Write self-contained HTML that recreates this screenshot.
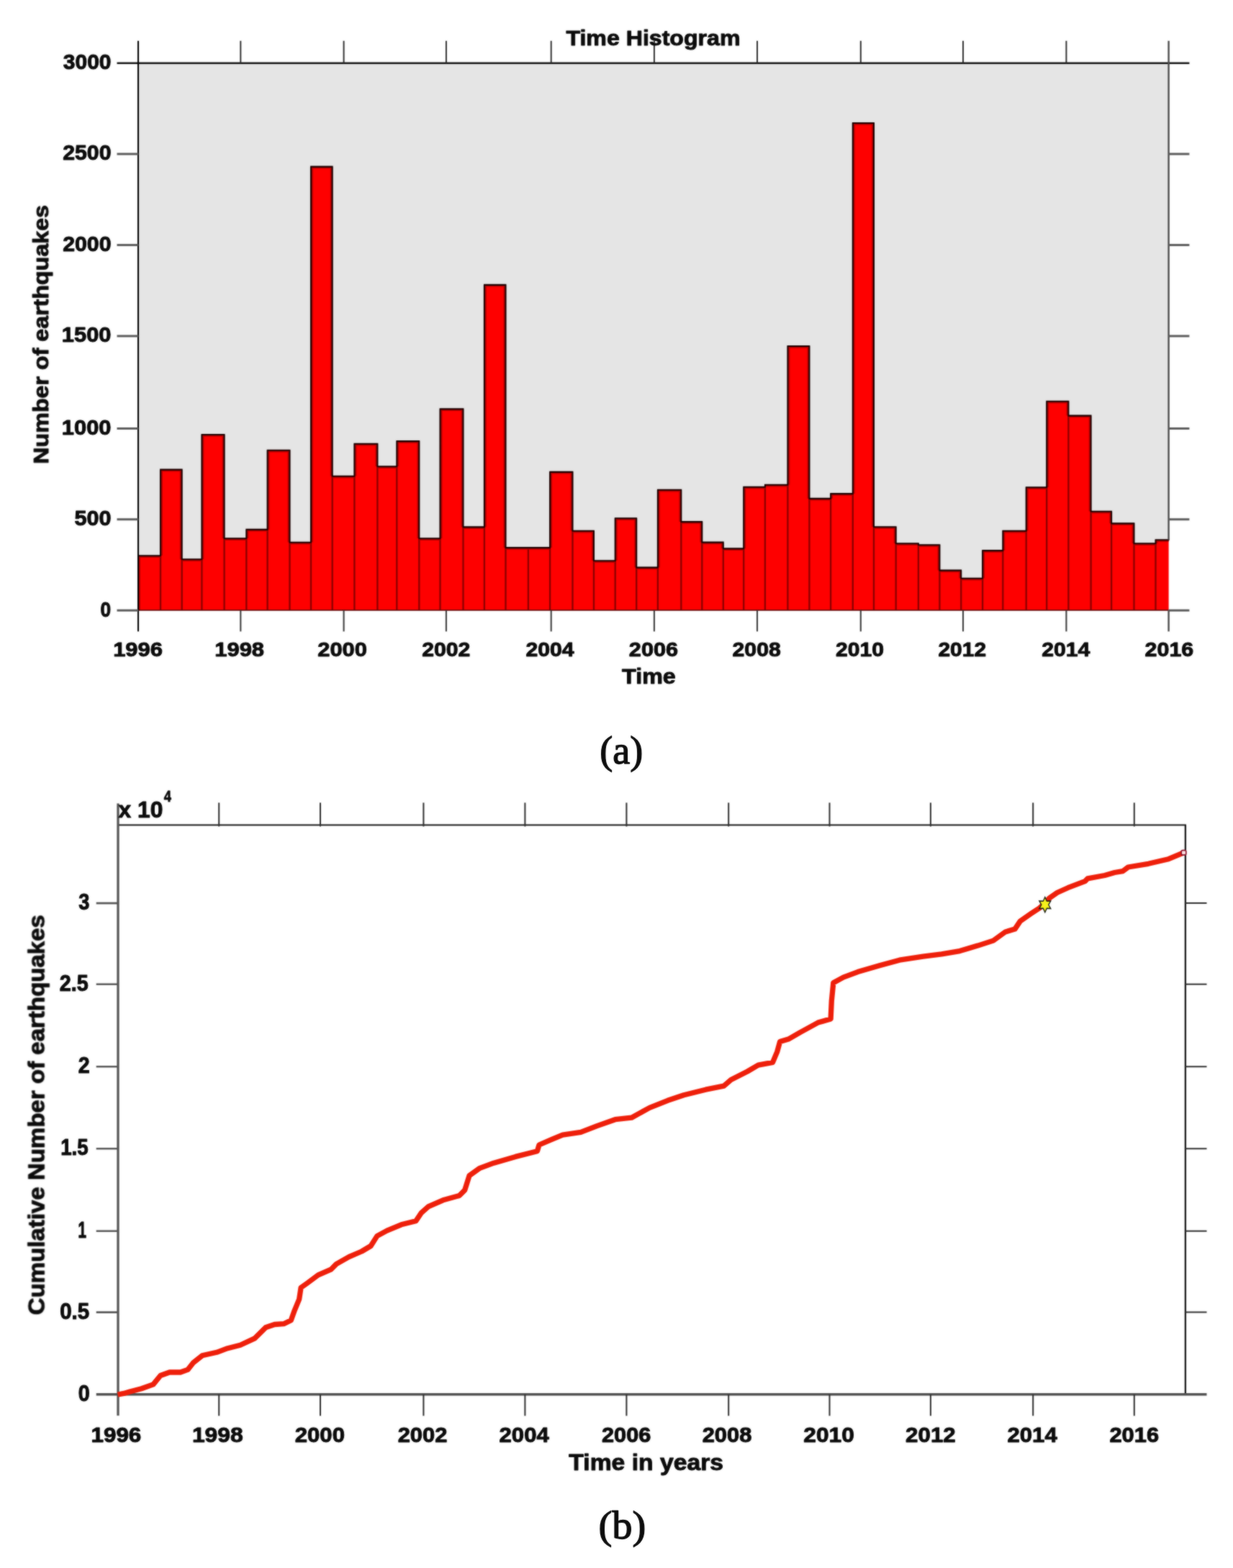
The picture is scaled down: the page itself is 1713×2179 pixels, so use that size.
<!DOCTYPE html>
<html lang="en">
<head>
<meta charset="utf-8">
<title>Time histogram and cumulative number of earthquakes</title>
<style>
html,body{margin:0;padding:0;background:#fff;}
body{width:1713px;height:2179px;overflow:hidden;}
svg{display:block;}
text{white-space:pre;}
</style>
</head>
<body>
<svg width="1713" height="2179" viewBox="0 0 1713 2179">
<rect x="0" y="0" width="1713" height="2179" fill="#ffffff"/>
<defs><filter id="soft" filterUnits="userSpaceOnUse" x="0" y="0" width="1713" height="2179" color-interpolation-filters="sRGB"><feGaussianBlur in="SourceGraphic" stdDeviation="0.8" result="b"/><feComposite in="b" in2="SourceGraphic" operator="arithmetic" k1="0" k2="0.55" k3="0.45" k4="0"/></filter><filter id="soft2" filterUnits="userSpaceOnUse" x="0" y="0" width="1713" height="2179" color-interpolation-filters="sRGB"><feGaussianBlur in="SourceGraphic" stdDeviation="0.8" result="b"/><feComposite in="b" in2="SourceGraphic" operator="arithmetic" k1="0" k2="0.3" k3="0.70" k4="0"/></filter></defs>
<g id="figure" filter="url(#soft)">
<g id="chart-a">
<rect x="192.0" y="87.7" width="1431.6" height="760.3" fill="#e5e5e5"/>
<g fill="#fe0000" stroke="none">
<rect x="192.0" y="772.0" width="31.0" height="76.0"/>
<rect x="223.0" y="652.4" width="29.7" height="195.6"/>
<rect x="252.7" y="777.0" width="27.7" height="71.0"/>
<rect x="280.4" y="603.8" width="31.2" height="244.2"/>
<rect x="311.6" y="748.1" width="30.7" height="99.9"/>
<rect x="342.3" y="735.7" width="29.3" height="112.3"/>
<rect x="371.6" y="625.5" width="30.9" height="222.5"/>
<rect x="402.5" y="753.6" width="29.5" height="94.4"/>
<rect x="432.0" y="231.4" width="29.7" height="616.6"/>
<rect x="461.7" y="661.5" width="30.7" height="186.5"/>
<rect x="492.4" y="616.6" width="32.0" height="231.4"/>
<rect x="524.4" y="648.1" width="26.9" height="199.9"/>
<rect x="551.3" y="612.9" width="31.0" height="235.1"/>
<rect x="582.3" y="748.1" width="29.2" height="99.9"/>
<rect x="611.5" y="568.2" width="32.0" height="279.8"/>
<rect x="643.5" y="732.2" width="29.4" height="115.8"/>
<rect x="672.9" y="395.7" width="29.6" height="452.3"/>
<rect x="702.5" y="760.9" width="31.4" height="87.1"/>
<rect x="733.9" y="760.9" width="30.2" height="87.1"/>
<rect x="764.1" y="655.7" width="31.4" height="192.3"/>
<rect x="795.5" y="737.5" width="29.5" height="110.5"/>
<rect x="825.0" y="779.0" width="29.7" height="69.0"/>
<rect x="854.7" y="720.1" width="29.5" height="127.9"/>
<rect x="884.2" y="788.4" width="29.7" height="59.6"/>
<rect x="913.9" y="680.6" width="32.4" height="167.4"/>
<rect x="946.3" y="724.9" width="29.0" height="123.1"/>
<rect x="975.3" y="753.4" width="29.5" height="94.6"/>
<rect x="1004.8" y="762.2" width="28.4" height="85.8"/>
<rect x="1033.2" y="676.6" width="29.7" height="171.4"/>
<rect x="1062.9" y="673.5" width="31.5" height="174.5"/>
<rect x="1094.4" y="480.8" width="30.0" height="367.2"/>
<rect x="1124.4" y="692.7" width="29.7" height="155.3"/>
<rect x="1154.1" y="685.9" width="30.7" height="162.1"/>
<rect x="1184.8" y="170.8" width="29.2" height="677.2"/>
<rect x="1214.0" y="732.0" width="30.7" height="116.0"/>
<rect x="1244.7" y="755.1" width="31.2" height="92.9"/>
<rect x="1275.9" y="757.1" width="29.5" height="90.9"/>
<rect x="1305.4" y="792.4" width="29.8" height="55.6"/>
<rect x="1335.2" y="803.5" width="29.9" height="44.5"/>
<rect x="1365.1" y="764.9" width="28.2" height="83.1"/>
<rect x="1393.3" y="737.5" width="32.4" height="110.5"/>
<rect x="1425.7" y="677.0" width="28.5" height="171.0"/>
<rect x="1454.2" y="557.6" width="30.2" height="290.4"/>
<rect x="1484.4" y="577.4" width="31.2" height="270.6"/>
<rect x="1515.6" y="710.6" width="28.5" height="137.4"/>
<rect x="1544.1" y="727.2" width="31.4" height="120.8"/>
<rect x="1575.5" y="755.1" width="30.0" height="92.9"/>
<rect x="1605.5" y="750.1" width="18.1" height="97.9"/>
</g>
<path d="M223.0 848.0 V772.0 M252.7 848.0 V777.0 M280.4 848.0 V777.0 M311.6 848.0 V748.1 M342.3 848.0 V748.1 M371.6 848.0 V735.7 M402.5 848.0 V753.6 M432.0 848.0 V753.6 M461.7 848.0 V661.5 M492.4 848.0 V661.5 M524.4 848.0 V648.1 M551.3 848.0 V648.1 M582.3 848.0 V748.1 M611.5 848.0 V748.1 M643.5 848.0 V732.2 M672.9 848.0 V732.2 M702.5 848.0 V760.9 M733.9 848.0 V760.9 M764.1 848.0 V760.9 M795.5 848.0 V737.5 M825.0 848.0 V779.0 M854.7 848.0 V779.0 M884.2 848.0 V788.4 M913.9 848.0 V788.4 M946.3 848.0 V724.9 M975.3 848.0 V753.4 M1004.8 848.0 V762.2 M1033.2 848.0 V762.2 M1062.9 848.0 V676.6 M1094.4 848.0 V673.5 M1124.4 848.0 V692.7 M1154.1 848.0 V692.7 M1184.8 848.0 V685.9 M1214.0 848.0 V732.0 M1244.7 848.0 V755.1 M1275.9 848.0 V757.1 M1305.4 848.0 V792.4 M1335.2 848.0 V803.5 M1365.1 848.0 V803.5 M1393.3 848.0 V764.9 M1425.7 848.0 V737.5 M1454.2 848.0 V677.0 M1484.4 848.0 V577.4 M1515.6 848.0 V710.6 M1544.1 848.0 V727.2 M1575.5 848.0 V755.1 M1605.5 848.0 V755.1" fill="none" stroke="#8a0000" stroke-width="2.3"/>
<path d="M192.0 773.7 H223.0 M223.0 654.1 H252.7 M252.7 778.7 H280.4 M280.4 605.5 H311.6 M311.6 749.8 H342.3 M342.3 737.4 H371.6 M371.6 627.2 H402.5 M402.5 755.3 H432.0 M432.0 233.1 H461.7 M461.7 663.2 H492.4 M492.4 618.3 H524.4 M524.4 649.8 H551.3 M551.3 614.6 H582.3 M582.3 749.8 H611.5 M611.5 569.9 H643.5 M643.5 733.9 H672.9 M672.9 397.4 H702.5 M702.5 762.6 H733.9 M733.9 762.6 H764.1 M764.1 657.4 H795.5 M795.5 739.2 H825.0 M825.0 780.7 H854.7 M854.7 721.8 H884.2 M884.2 790.1 H913.9 M913.9 682.3 H946.3 M946.3 726.6 H975.3 M975.3 755.1 H1004.8 M1004.8 763.9 H1033.2 M1033.2 678.3 H1062.9 M1062.9 675.2 H1094.4 M1094.4 482.5 H1124.4 M1124.4 694.4 H1154.1 M1154.1 687.6 H1184.8 M1184.8 172.5 H1214.0 M1214.0 733.7 H1244.7 M1244.7 756.8 H1275.9 M1275.9 758.8 H1305.4 M1305.4 794.1 H1335.2 M1335.2 805.2 H1365.1 M1365.1 766.6 H1393.3 M1393.3 739.2 H1425.7 M1425.7 678.7 H1454.2 M1454.2 559.3 H1484.4 M1484.4 579.1 H1515.6 M1515.6 712.3 H1544.1 M1544.1 728.9 H1575.5 M1575.5 756.8 H1605.5 M1605.5 751.8 H1623.6 M224.7 652.4 V772.0 M251.0 652.4 V777.0 M282.1 603.8 V777.0 M309.9 603.8 V748.1 M344.0 735.7 V748.1 M373.3 625.5 V735.7 M400.8 625.5 V753.6 M433.7 231.4 V753.6 M460.0 231.4 V661.5 M494.1 616.6 V661.5 M522.7 616.6 V648.1 M553.0 612.9 V648.1 M580.6 612.9 V748.1 M613.2 568.2 V748.1 M641.8 568.2 V732.2 M674.6 395.7 V732.2 M700.8 395.7 V760.9 M765.8 655.7 V760.9 M793.8 655.7 V737.5 M823.3 737.5 V779.0 M856.4 720.1 V779.0 M882.5 720.1 V788.4 M915.6 680.6 V788.4 M944.6 680.6 V724.9 M973.6 724.9 V753.4 M1003.1 753.4 V762.2 M1034.9 676.6 V762.2 M1064.6 673.5 V676.6 M1096.1 480.8 V673.5 M1122.7 480.8 V692.7 M1155.8 685.9 V692.7 M1186.5 170.8 V685.9 M1212.3 170.8 V732.0 M1243.0 732.0 V755.1 M1274.2 755.1 V757.1 M1303.7 757.1 V792.4 M1333.5 792.4 V803.5 M1366.8 764.9 V803.5 M1395.0 737.5 V764.9 M1427.4 677.0 V737.5 M1455.9 557.6 V677.0 M1482.7 557.6 V577.4 M1513.9 577.4 V710.6 M1542.4 710.6 V727.2 M1573.8 727.2 V755.1 M1607.2 750.1 V755.1 M193.7 772.0 V848.0" fill="none" stroke="#b40000" stroke-width="2.4"/>
<path d="M191.1 772.2 H223.9 M222.1 652.6 H253.6 M251.8 777.2 H281.3 M279.5 604.0 H312.5 M310.7 748.3 H343.2 M341.4 735.9 H372.5 M370.7 625.7 H403.4 M401.6 753.8 H432.9 M431.1 231.6 H462.6 M460.8 661.7 H493.3 M491.5 616.8 H525.3 M523.5 648.3 H552.2 M550.4 613.1 H583.2 M581.4 748.3 H612.4 M610.6 568.4 H644.4 M642.6 732.4 H673.8 M672.0 395.9 H703.4 M701.6 761.1 H734.8 M733.0 761.1 H765.0 M763.2 655.9 H796.4 M794.6 737.7 H825.9 M824.1 779.2 H855.6 M853.8 720.3 H885.1 M883.3 788.6 H914.8 M913.0 680.8 H947.2 M945.4 725.1 H976.2 M974.4 753.6 H1005.7 M1003.9 762.4 H1034.1 M1032.3 676.8 H1063.8 M1062.0 673.7 H1095.3 M1093.5 481.0 H1125.3 M1123.5 692.9 H1155.0 M1153.2 686.1 H1185.7 M1183.9 171.0 H1214.9 M1213.1 732.2 H1245.6 M1243.8 755.3 H1276.8 M1275.0 757.3 H1306.3 M1304.5 792.6 H1336.1 M1334.3 803.7 H1366.0 M1364.2 765.1 H1394.2 M1392.4 737.7 H1426.6 M1424.8 677.2 H1455.1 M1453.3 557.8 H1485.3 M1483.5 577.6 H1516.5 M1514.7 710.8 H1545.0 M1543.2 727.4 H1576.4 M1574.6 755.3 H1606.4 M1604.6 750.3 H1624.5 M223.0 652.4 V772.0 M252.7 652.4 V777.0 M280.4 603.8 V777.0 M311.6 603.8 V748.1 M342.3 735.7 V748.1 M371.6 625.5 V735.7 M402.5 625.5 V753.6 M432.0 231.4 V753.6 M461.7 231.4 V661.5 M492.4 616.6 V661.5 M524.4 616.6 V648.1 M551.3 612.9 V648.1 M582.3 612.9 V748.1 M611.5 568.2 V748.1 M643.5 568.2 V732.2 M672.9 395.7 V732.2 M702.5 395.7 V760.9 M733.9 760.9 V760.9 M764.1 655.7 V760.9 M795.5 655.7 V737.5 M825.0 737.5 V779.0 M854.7 720.1 V779.0 M884.2 720.1 V788.4 M913.9 680.6 V788.4 M946.3 680.6 V724.9 M975.3 724.9 V753.4 M1004.8 753.4 V762.2 M1033.2 676.6 V762.2 M1062.9 673.5 V676.6 M1094.4 480.8 V673.5 M1124.4 480.8 V692.7 M1154.1 685.9 V692.7 M1184.8 170.8 V685.9 M1214.0 170.8 V732.0 M1244.7 732.0 V755.1 M1275.9 755.1 V757.1 M1305.4 757.1 V792.4 M1335.2 792.4 V803.5 M1365.1 764.9 V803.5 M1393.3 737.5 V764.9 M1425.7 677.0 V737.5 M1454.2 557.6 V677.0 M1484.4 557.6 V577.4 M1515.6 577.4 V710.6 M1544.1 710.6 V727.2 M1575.5 727.2 V755.1 M1605.5 750.1 V755.1" fill="none" stroke="#1c0000" stroke-width="2.1"/>
<line x1="192.0" y1="848.0" x2="1623.6" y2="848.0" stroke="#5a0000" stroke-width="1.6"/>
<line x1="162.5" y1="87.7" x2="1652.3999999999999" y2="87.7" stroke="#101010" stroke-width="2.6"/>
<line x1="192.0" y1="56.7" x2="192.0" y2="877.5" stroke="#000" stroke-width="2.1"/>
<path d="M1623.6 56.7 V750.1 M1623.6 848.0 V877.5" fill="none" stroke="#4a4a4a" stroke-width="2.4"/>
<path d="M334.3 56.7 V87.7 M477.6 56.7 V87.7 M619.9 56.7 V87.7 M765.7 56.7 V87.7 M908.9 56.7 V87.7 M1052.0 56.7 V87.7 M1195.8 56.7 V87.7 M1338.0 56.7 V87.7 M1481.4 56.7 V87.7" fill="none" stroke="#262626" stroke-width="1.9"/>
<path d="M334.3 848.0 V877.5 M477.6 848.0 V877.5 M619.9 848.0 V877.5 M765.7 848.0 V877.5 M908.9 848.0 V877.5 M1052.0 848.0 V877.5 M1195.8 848.0 V877.5 M1338.0 848.0 V877.5 M1481.4 848.0 V877.5" fill="none" stroke="#3c3c3c" stroke-width="2.1"/>
<path d="M162.5 848.3 H192.0 M1623.6 848.3 H1652.3999999999999 M162.5 721.8 H192.0 M1623.6 721.8 H1652.3999999999999 M162.5 595.5 H192.0 M1623.6 595.5 H1652.3999999999999 M162.5 466.9 H192.0 M1623.6 466.9 H1652.3999999999999 M162.5 340.5 H192.0 M1623.6 340.5 H1652.3999999999999 M162.5 214.0 H192.0 M1623.6 214.0 H1652.3999999999999" fill="none" stroke="#5a5a5a" stroke-width="3"/>
</g>
<g id="chart-b">
<line x1="164.0" y1="1146.6" x2="1648.0" y2="1146.6" stroke="#161616" stroke-width="2"/>
<line x1="1646.9" y1="1146.6" x2="1646.9" y2="1937.8" stroke="#141414" stroke-width="2.3"/>
<line x1="164.0" y1="1116.6" x2="164.0" y2="1967.3" stroke="#555" stroke-width="3.3"/>
<line x1="133.7" y1="1937.8" x2="1676.5" y2="1937.8" stroke="#505050" stroke-width="3.4"/>
<path d="M304.2 1115.6 V1148.6 M304.2 1937.8 V1967.6 M445.0 1115.6 V1148.6 M445.0 1937.8 V1967.6 M588.4 1115.6 V1148.6 M588.4 1937.8 V1967.6 M729.4 1115.6 V1148.6 M729.4 1937.8 V1967.6 M870.4 1115.6 V1148.6 M870.4 1937.8 V1967.6 M1012.2 1115.6 V1148.6 M1012.2 1937.8 V1967.6 M1152.5 1115.6 V1148.6 M1152.5 1937.8 V1967.6 M1292.9 1115.6 V1148.6 M1292.9 1937.8 V1967.6 M1435.2 1115.6 V1148.6 M1435.2 1937.8 V1967.6 M1575.8 1115.6 V1148.6 M1575.8 1937.8 V1967.6 M1646.9 1823.6 H1676.5 M1646.9 1710.7 H1676.5 M1646.9 1596.3 H1676.5 M1646.9 1482.2 H1676.5 M1646.9 1367.7 H1676.5 M1646.9 1255.1 H1676.5" fill="none" stroke="#2c2c2c" stroke-width="2"/>
<path d="M133.7 1823.6 H164.0 M133.7 1710.7 H164.0 M133.7 1596.3 H164.0 M133.7 1482.2 H164.0 M133.7 1367.7 H164.0 M133.7 1255.1 H164.0" fill="none" stroke="#555" stroke-width="2.6"/>
<polyline points="163.6,1938.0 172.0,1936.4 180.2,1934.0 196.5,1929.8 212.9,1923.9 223.0,1911.5 235.6,1907.0 250.7,1907.0 260.8,1903.4 268.3,1893.9 280.9,1883.8 301.1,1879.3 316.2,1873.7 333.8,1869.2 353.9,1859.9 369.0,1844.8 381.6,1840.5 394.2,1839.7 404.3,1834.7 409.3,1820.8 415.6,1805.7 418.1,1789.4 426.9,1783.1 442.0,1771.8 459.7,1764.2 467.2,1756.6 484.8,1746.6 502.5,1739.0 515.1,1731.5 523.9,1717.6 537.7,1710.1 557.6,1701.8 577.8,1696.7 585.3,1685.4 595.4,1676.6 615.5,1667.8 638.2,1661.5 645.7,1653.9 652.0,1633.8 665.9,1623.7 686.0,1616.2 716.2,1607.4 746.4,1599.8 749.0,1591.0 766.6,1583.4 781.7,1577.1 806.9,1573.4 829.5,1564.6 854.7,1555.7 877.4,1553.2 902.5,1539.4 927.7,1529.3 950.1,1521.8 980.4,1514.2 1005.5,1509.2 1015.6,1500.4 1038.3,1489.0 1053.4,1480.2 1073.5,1476.4 1079.8,1461.3 1083.6,1447.5 1096.2,1443.7 1111.3,1434.9 1136.4,1421.1 1154.1,1416.0 1155.3,1390.8 1157.8,1365.7 1171.7,1358.1 1191.8,1350.6 1222.0,1341.8 1249.7,1334.2 1282.5,1329.2 1308.2,1325.9 1333.4,1321.6 1358.5,1314.1 1380.0,1307.1 1396.9,1294.9 1410.0,1291.1 1417.5,1279.9 1432.5,1269.6 1444.0,1262.0 1451.8,1255.0 1458.0,1248.0 1468.7,1240.5 1483.7,1233.7 1507.4,1224.6 1511.1,1220.9 1534.8,1216.5 1548.6,1212.5 1559.9,1210.6 1567.4,1205.0 1595.5,1200.3 1623.6,1193.7 1644.5,1184.9" fill="none" stroke="#ee1f0a" stroke-width="7.3" stroke-linejoin="round" stroke-linecap="butt"/>
<rect x="1641.2" y="1181.6" width="6.6" height="6.6" rx="2" fill="#fde4e4" stroke="#8a1028" stroke-width="1.7"/>
<polygon transform="translate(1451.8 1257.3) scale(0.86 1)" points="0.0,-10.6 2.9,-5.0 9.2,-5.3 5.8,0.0 9.2,5.3 2.9,5.0 0.0,10.6 -2.9,5.0 -9.2,5.3 -5.8,0.0 -9.2,-5.3 -2.9,-5.0" fill="#f7f11c" stroke="#161a10" stroke-width="1.5" stroke-linejoin="miter"/>
</g>
<g id="labels">
<text transform="translate(786.40 63.10) scale(1.0964 1)" font-family="'Liberation Sans', Arial, Helvetica, sans-serif" font-weight="bold" font-size="29.30px" fill="#0b0b0b" stroke="#0b0b0b" stroke-width="0.95" stroke-linejoin="round">Time Histogram</text>
<text transform="translate(864.10 950.20) scale(1.1064 1)" font-family="'Liberation Sans', Arial, Helvetica, sans-serif" font-weight="bold" font-size="29.16px" fill="#0b0b0b" stroke="#0b0b0b" stroke-width="0.95" stroke-linejoin="round">Time</text>
<text transform="translate(67.10 644.71) rotate(-90) scale(1.0996 1)" font-family="'Liberation Sans', Arial, Helvetica, sans-serif" font-weight="bold" font-size="29.30px" fill="#0b0b0b" stroke="#0b0b0b" stroke-width="0.95" stroke-linejoin="round">Number of earthquakes</text>
<text transform="translate(157.17 911.80) scale(1.0873 1)" font-family="'Liberation Sans', Arial, Helvetica, sans-serif" font-weight="bold" font-size="28.44px" fill="#0b0b0b" stroke="#0b0b0b" stroke-width="0.96" stroke-linejoin="round">1996</text>
<text transform="translate(298.27 911.80) scale(1.0873 1)" font-family="'Liberation Sans', Arial, Helvetica, sans-serif" font-weight="bold" font-size="28.44px" fill="#0b0b0b" stroke="#0b0b0b" stroke-width="0.96" stroke-linejoin="round">1998</text>
<text transform="translate(441.24 911.80) scale(1.0843 1)" font-family="'Liberation Sans', Arial, Helvetica, sans-serif" font-weight="bold" font-size="28.44px" fill="#0b0b0b" stroke="#0b0b0b" stroke-width="0.96" stroke-linejoin="round">2000</text>
<text transform="translate(586.16 911.80) scale(1.0619 1)" font-family="'Liberation Sans', Arial, Helvetica, sans-serif" font-weight="bold" font-size="28.44px" fill="#0b0b0b" stroke="#0b0b0b" stroke-width="0.97" stroke-linejoin="round">2002</text>
<text transform="translate(730.46 911.80) scale(1.0612 1)" font-family="'Liberation Sans', Arial, Helvetica, sans-serif" font-weight="bold" font-size="28.44px" fill="#0b0b0b" stroke="#0b0b0b" stroke-width="0.97" stroke-linejoin="round">2004</text>
<text transform="translate(873.84 911.80) scale(1.0781 1)" font-family="'Liberation Sans', Arial, Helvetica, sans-serif" font-weight="bold" font-size="28.44px" fill="#0b0b0b" stroke="#0b0b0b" stroke-width="0.96" stroke-linejoin="round">2006</text>
<text transform="translate(1017.56 911.80) scale(1.0619 1)" font-family="'Liberation Sans', Arial, Helvetica, sans-serif" font-weight="bold" font-size="28.44px" fill="#0b0b0b" stroke="#0b0b0b" stroke-width="0.97" stroke-linejoin="round">2008</text>
<text transform="translate(1161.06 911.80) scale(1.0598 1)" font-family="'Liberation Sans', Arial, Helvetica, sans-serif" font-weight="bold" font-size="28.44px" fill="#0b0b0b" stroke="#0b0b0b" stroke-width="0.97" stroke-linejoin="round">2010</text>
<text transform="translate(1303.46 911.80) scale(1.0538 1)" font-family="'Liberation Sans', Arial, Helvetica, sans-serif" font-weight="bold" font-size="28.44px" fill="#0b0b0b" stroke="#0b0b0b" stroke-width="0.97" stroke-linejoin="round">2012</text>
<text transform="translate(1447.26 911.80) scale(1.0612 1)" font-family="'Liberation Sans', Arial, Helvetica, sans-serif" font-weight="bold" font-size="28.44px" fill="#0b0b0b" stroke="#0b0b0b" stroke-width="0.97" stroke-linejoin="round">2014</text>
<text transform="translate(1590.55 911.80) scale(1.0700 1)" font-family="'Liberation Sans', Arial, Helvetica, sans-serif" font-weight="bold" font-size="28.44px" fill="#0b0b0b" stroke="#0b0b0b" stroke-width="0.97" stroke-linejoin="round">2016</text>
<text transform="translate(139.48 856.70) scale(0.8655 1)" font-family="'Liberation Sans', Arial, Helvetica, sans-serif" font-weight="bold" font-size="30.29px" fill="#0b0b0b" stroke="#0b0b0b" stroke-width="1.07" stroke-linejoin="round">0</text>
<text transform="translate(103.52 730.20) scale(1.0094 1)" font-family="'Liberation Sans', Arial, Helvetica, sans-serif" font-weight="bold" font-size="30.29px" fill="#0b0b0b" stroke="#0b0b0b" stroke-width="1.00" stroke-linejoin="round">500</text>
<text transform="translate(85.77 603.90) scale(1.0207 1)" font-family="'Liberation Sans', Arial, Helvetica, sans-serif" font-weight="bold" font-size="30.29px" fill="#0b0b0b" stroke="#0b0b0b" stroke-width="0.99" stroke-linejoin="round">1000</text>
<text transform="translate(85.77 475.30) scale(1.0207 1)" font-family="'Liberation Sans', Arial, Helvetica, sans-serif" font-weight="bold" font-size="30.29px" fill="#0b0b0b" stroke="#0b0b0b" stroke-width="0.99" stroke-linejoin="round">1500</text>
<text transform="translate(87.15 348.90) scale(0.9997 1)" font-family="'Liberation Sans', Arial, Helvetica, sans-serif" font-weight="bold" font-size="30.29px" fill="#0b0b0b" stroke="#0b0b0b" stroke-width="1.00" stroke-linejoin="round">2000</text>
<text transform="translate(87.15 222.40) scale(0.9997 1)" font-family="'Liberation Sans', Arial, Helvetica, sans-serif" font-weight="bold" font-size="30.29px" fill="#0b0b0b" stroke="#0b0b0b" stroke-width="1.00" stroke-linejoin="round">2500</text>
<text transform="translate(87.83 96.10) scale(0.9895 1)" font-family="'Liberation Sans', Arial, Helvetica, sans-serif" font-weight="bold" font-size="30.29px" fill="#0b0b0b" stroke="#0b0b0b" stroke-width="1.01" stroke-linejoin="round">3000</text>
<text transform="translate(126.43 2003.60) scale(1.0891 1)" font-family="'Liberation Sans', Arial, Helvetica, sans-serif" font-weight="bold" font-size="28.87px" fill="#0b0b0b" stroke="#0b0b0b" stroke-width="0.96" stroke-linejoin="round">1996</text>
<text transform="translate(266.91 2003.60) scale(1.1037 1)" font-family="'Liberation Sans', Arial, Helvetica, sans-serif" font-weight="bold" font-size="28.87px" fill="#0b0b0b" stroke="#0b0b0b" stroke-width="0.95" stroke-linejoin="round">1998</text>
<text transform="translate(409.73 2003.60) scale(1.0780 1)" font-family="'Liberation Sans', Arial, Helvetica, sans-serif" font-weight="bold" font-size="28.87px" fill="#0b0b0b" stroke="#0b0b0b" stroke-width="0.96" stroke-linejoin="round">2000</text>
<text transform="translate(552.63 2003.60) scale(1.0702 1)" font-family="'Liberation Sans', Arial, Helvetica, sans-serif" font-weight="bold" font-size="28.87px" fill="#0b0b0b" stroke="#0b0b0b" stroke-width="0.97" stroke-linejoin="round">2002</text>
<text transform="translate(693.53 2003.60) scale(1.0786 1)" font-family="'Liberation Sans', Arial, Helvetica, sans-serif" font-weight="bold" font-size="28.87px" fill="#0b0b0b" stroke="#0b0b0b" stroke-width="0.96" stroke-linejoin="round">2004</text>
<text transform="translate(835.94 2003.60) scale(1.0654 1)" font-family="'Liberation Sans', Arial, Helvetica, sans-serif" font-weight="bold" font-size="28.87px" fill="#0b0b0b" stroke="#0b0b0b" stroke-width="0.97" stroke-linejoin="round">2006</text>
<text transform="translate(975.63 2003.60) scale(1.0702 1)" font-family="'Liberation Sans', Arial, Helvetica, sans-serif" font-weight="bold" font-size="28.87px" fill="#0b0b0b" stroke="#0b0b0b" stroke-width="0.97" stroke-linejoin="round">2008</text>
<text transform="translate(1116.31 2003.60) scale(1.0989 1)" font-family="'Liberation Sans', Arial, Helvetica, sans-serif" font-weight="bold" font-size="28.87px" fill="#0b0b0b" stroke="#0b0b0b" stroke-width="0.95" stroke-linejoin="round">2010</text>
<text transform="translate(1258.12 2003.60) scale(1.0830 1)" font-family="'Liberation Sans', Arial, Helvetica, sans-serif" font-weight="bold" font-size="28.87px" fill="#0b0b0b" stroke="#0b0b0b" stroke-width="0.96" stroke-linejoin="round">2012</text>
<text transform="translate(1399.53 2003.60) scale(1.0770 1)" font-family="'Liberation Sans', Arial, Helvetica, sans-serif" font-weight="bold" font-size="28.87px" fill="#0b0b0b" stroke="#0b0b0b" stroke-width="0.96" stroke-linejoin="round">2014</text>
<text transform="translate(1541.43 2003.60) scale(1.0702 1)" font-family="'Liberation Sans', Arial, Helvetica, sans-serif" font-weight="bold" font-size="28.87px" fill="#0b0b0b" stroke="#0b0b0b" stroke-width="0.97" stroke-linejoin="round">2016</text>
<text transform="translate(108.70 1946.90) scale(0.9341 1)" font-family="'Liberation Sans', Arial, Helvetica, sans-serif" font-weight="bold" font-size="30.72px" fill="#0b0b0b" stroke="#0b0b0b" stroke-width="1.03" stroke-linejoin="round">0</text>
<text transform="translate(83.18 1832.70) scale(0.9614 1)" font-family="'Liberation Sans', Arial, Helvetica, sans-serif" font-weight="bold" font-size="30.72px" fill="#0b0b0b" stroke="#0b0b0b" stroke-width="1.02" stroke-linejoin="round">0.5</text>
<text transform="translate(108.52 1719.80) scale(0.6667 1)" font-family="'Liberation Sans', Arial, Helvetica, sans-serif" font-weight="bold" font-size="30.72px" fill="#0b0b0b" stroke="#0b0b0b" stroke-width="1.20" stroke-linejoin="round">1</text>
<text transform="translate(84.17 1605.40) scale(0.9020 1)" font-family="'Liberation Sans', Arial, Helvetica, sans-serif" font-weight="bold" font-size="30.72px" fill="#0b0b0b" stroke="#0b0b0b" stroke-width="1.05" stroke-linejoin="round">1.5</text>
<text transform="translate(108.81 1491.30) scale(0.9310 1)" font-family="'Liberation Sans', Arial, Helvetica, sans-serif" font-weight="bold" font-size="30.72px" fill="#0b0b0b" stroke="#0b0b0b" stroke-width="1.04" stroke-linejoin="round">2</text>
<text transform="translate(82.80 1376.80) scale(0.9370 1)" font-family="'Liberation Sans', Arial, Helvetica, sans-serif" font-weight="bold" font-size="30.72px" fill="#0b0b0b" stroke="#0b0b0b" stroke-width="1.03" stroke-linejoin="round">2.5</text>
<text transform="translate(109.28 1264.20) scale(0.8838 1)" font-family="'Liberation Sans', Arial, Helvetica, sans-serif" font-weight="bold" font-size="30.72px" fill="#0b0b0b" stroke="#0b0b0b" stroke-width="1.06" stroke-linejoin="round">3</text>
<text transform="translate(790.30 2043.30) scale(1.0968 1)" font-family="'Liberation Sans', Arial, Helvetica, sans-serif" font-weight="bold" font-size="30.72px" fill="#0b0b0b" stroke="#0b0b0b" stroke-width="0.95" stroke-linejoin="round">Time in years</text>
<text transform="translate(61.50 1827.33) rotate(-90) scale(1.0756 1)" font-family="'Liberation Sans', Arial, Helvetica, sans-serif" font-weight="bold" font-size="30.72px" fill="#0b0b0b" stroke="#0b0b0b" stroke-width="0.96" stroke-linejoin="round">Cumulative Number of earthquakes</text>
<text transform="translate(164.60 1136.10) scale(0.9921 1)" font-family="'Liberation Sans', Arial, Helvetica, sans-serif" font-weight="bold" font-size="32.00px" fill="#0b0b0b" stroke="#0b0b0b" stroke-width="1.00" stroke-linejoin="round">x 10</text>
<text transform="translate(227.65 1113.90) scale(0.7997 1)" font-family="'Liberation Sans', Arial, Helvetica, sans-serif" font-weight="bold" font-size="22.90px" fill="#0b0b0b" stroke="#0b0b0b" stroke-width="0.78" stroke-linejoin="round">4</text>
</g>
</g>
<g id="captions" filter="url(#soft2)">
<text transform="translate(833.26 1061.40) scale(1.0035 1)" font-family="'Liberation Serif', 'Times New Roman', Times, serif" font-weight="normal" font-size="53.91px" fill="#0b0b0b" stroke="#0b0b0b" stroke-width="1.30" stroke-linejoin="round">(a)</text>
<text transform="translate(831.48 2137.80) scale(1.0401 1)" font-family="'Liberation Serif', 'Times New Roman', Times, serif" font-weight="normal" font-size="54.35px" fill="#0b0b0b" stroke="#0b0b0b" stroke-width="1.27" stroke-linejoin="round">(b)</text>
</g>
</svg>
</body>
</html>
